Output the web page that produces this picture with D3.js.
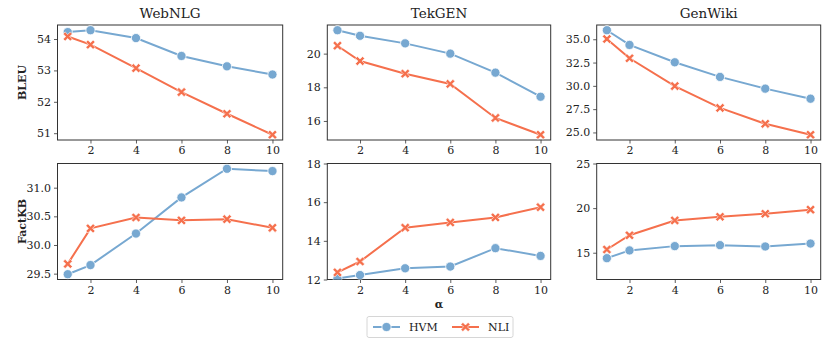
<!DOCTYPE html>
<html><head><meta charset="utf-8">
<script src="https://cdn.jsdelivr.net/npm/d3@7"></script>
<style>body{margin:0;background:#fff}svg{display:block}text{font-family:"DejaVu Serif","Liberation Serif",serif;fill:#222}</style>
</head><body><svg id="c" width="830" height="345"></svg>
<script>
const alphas = [1, 2, 4, 6, 8, 10];
const xTicks = [2, 4, 6, 8, 10];
const datasets = ["WebNLG", "TekGEN", "GenWiki"];
const metrics = ["BLEU", "FactKB"];

const bleuHVM = {
  WebNLG: [54.22, 54.28, 54.03, 53.46, 53.13, 52.87],
  TekGEN: [21.39, 21.06, 20.61, 20.0, 18.87, 17.44],
  GenWiki: [35.97, 34.39, 32.53, 30.96, 29.7, 28.62]
};
const bleuNLI = {
  WebNLG: [54.08, 53.82, 53.07, 52.31, 51.62, 50.95],
  TekGEN: [20.47, 19.56, 18.81, 18.2, 16.18, 15.18],
  GenWiki: [35.03, 32.96, 29.98, 27.63, 25.93, 24.75]
};
const factHVM = {
  WebNLG: [29.49, 29.65, 30.2, 30.83, 31.33, 31.29],
  TekGEN: [12.05, 12.23, 12.58, 12.67, 13.62, 13.22],
  GenWiki: [14.39, 15.26, 15.74, 15.85, 15.7, 16.03]
};
const factNLI = {
  WebNLG: [29.67, 30.29, 30.48, 30.43, 30.45, 30.3],
  TekGEN: [12.37, 12.93, 14.68, 14.95, 15.21, 15.74],
  GenWiki: [15.36, 16.96, 18.62, 19.03, 19.37, 19.82]
};
const yTicks = {
  BLEU: { WebNLG: [51, 52, 53, 54], TekGEN: [16, 18, 20], GenWiki: [25, 27.5, 30, 32.5, 35] },
  FactKB: { WebNLG: [29.5, 30, 30.5, 31], TekGEN: [12, 14, 16, 18], GenWiki: [15, 20, 25] }
};
const yFixed = { FactKB: { TekGEN: [12, 18], GenWiki: [12, 25] } };
const seriesNames = ["HVM", "NLI"];

const FONT = '"DejaVu Serif","Liberation Serif",serif';
const colors = { HVM: "#77a8d1", NLI: "#f5704d" };
const cols = [[57.5, 282.7], [327.3, 550.7], [596.7, 820.7]];
const rows = [[25, 140], [163.5, 279.5]];
const svg = d3.select("#c");

function yFmt(ticks) {
  const dec = ticks.some(t => t % 1 !== 0);
  return t => dec ? t.toFixed(1) : String(t);
}

metrics.forEach((m, ri) => {
  const hvm = m === "BLEU" ? bleuHVM : factHVM;
  const nli = m === "BLEU" ? bleuNLI : factNLI;
  datasets.forEach((ds, ci) => {
    const [x0, x1] = cols[ci], [y0, y1] = rows[ri];
    const x = d3.scaleLinear().domain([1 - 0.45, 10 + 0.45]).range([x0, x1]);
    let dom;
    if (yFixed[m] && yFixed[m][ds]) dom = yFixed[m][ds];
    else {
      const all = hvm[ds].concat(nli[ds]);
      const lo = d3.min(all), hi = d3.max(all), pad = (hi - lo) * 0.05;
      dom = [lo - pad, hi + pad];
    }
    const y = d3.scaleLinear().domain(dom).range([y1, y0]);
    const g = svg.append("g");
    const gx = g.append("g").attr("transform", `translate(0,${y1})`)
      .call(d3.axisBottom(x).tickValues(xTicks).tickSize(3.5).tickPadding(3).tickFormat(d3.format("d")));
    const gy = g.append("g").attr("transform", `translate(${x0},0)`)
      .call(d3.axisLeft(y).tickValues(yTicks[m][ds]).tickSize(3.5).tickPadding(3).tickFormat(yFmt(yTicks[m][ds])));
    [gx, gy].forEach(a => {
      a.attr("font-family", FONT).attr("font-size", 11);
      a.select(".domain").remove();
      a.selectAll("line").attr("stroke", "#333").attr("stroke-width", 0.8);
      a.selectAll("text").style("font-family", FONT).style("font-size", "11px").attr("fill", "#222");
    });
    g.append("rect").attr("x", x0).attr("y", y0).attr("width", x1 - x0).attr("height", y1 - y0)
      .attr("fill", "none").attr("stroke", "#333").attr("stroke-width", 1);

    const line = d3.line().x((d, i) => x(alphas[i])).y(d => y(d));
    const clip = `clip${ri}${ci}`;
    g.append("clipPath").attr("id", clip).append("rect").attr("x", x0).attr("y", y0).attr("width", x1 - x0).attr("height", y1 - y0);
    const pg = g.append("g").attr("clip-path", `url(#${clip})`);
    [["HVM", hvm[ds]], ["NLI", nli[ds]]].forEach(([s, vals]) => {
      pg.append("path").datum(vals).attr("d", line).attr("fill", "none")
        .attr("stroke", colors[s]).attr("stroke-width", 2);
    });
    [["HVM", hvm[ds]], ["NLI", nli[ds]]].forEach(([s, vals]) => {
      vals.forEach((v, i) => drawMarker(pg, s, x(alphas[i]), y(v)));
    });

    if (ri === 0) {
      g.append("text").attr("x", (x0 + x1) / 2).attr("y", y0 - 7).attr("text-anchor", "middle")
        .style("font-family", FONT).style("font-size", "13.5px").text(ds);
    }
    if (ci === 0) {
      g.append("text").attr("transform", `translate(26,${(y0 + y1) / 2}) rotate(-90)`)
        .attr("text-anchor", "middle").style("font-family", FONT).style("font-size", "11px").style("font-weight", "bold").text(m);
    }
  });
});

function drawMarker(g, s, cx, cy) {
  if (s === "HVM") {
    g.append("circle").attr("cx", cx).attr("cy", cy).attr("r", 4.6)
      .attr("fill", colors.HVM).attr("stroke", "#fff").attr("stroke-width", 0.8);
  } else {
    const a = 4.6, w = 2.0;
    const p = `M${-a},${-a + w}L${-a + w},${-a}L0,${-w}L${a - w},${-a}L${a},${-a + w}L${w},0L${a},${a - w}L${a - w},${a}L0,${w}L${-a + w},${a}L${-a},${a - w}L${-w},0Z`;
    g.append("path").attr("d", p).attr("transform", `translate(${cx},${cy})`)
      .attr("fill", colors.NLI).attr("stroke", "#fff").attr("stroke-width", 0.6);
  }
}

svg.append("text").attr("x", (cols[1][0] + cols[1][1]) / 2).attr("y", 308).attr("text-anchor", "middle")
  .style("font-family", FONT).style("font-size", "11px").style("font-weight", "bold").text("α");

const lg = svg.append("g");
lg.append("rect").attr("x", 367).attr("y", 316.5).attr("width", 146).attr("height", 21).attr("rx", 2)
  .attr("fill", "#fff").attr("stroke", "#ccc").attr("stroke-width", 0.8);
const legX = [373, 452];
seriesNames.forEach((s, i) => {
  const lx = legX[i], ly = 327;
  lg.append("line").attr("x1", lx).attr("x2", lx + 27).attr("y1", ly).attr("y2", ly)
    .attr("stroke", colors[s]).attr("stroke-width", 2);
  drawMarker(lg, s, lx + 13.5, ly);
  lg.append("text").attr("x", lx + 36).attr("y", ly + 4).style("font-family", FONT).style("font-size", "11px").text(s);
});
</script></body></html>
